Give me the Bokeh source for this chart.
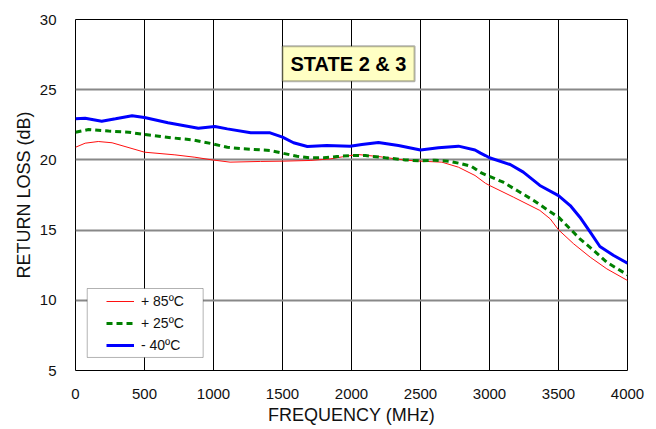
from bokeh.plotting import figure
from bokeh.models import (BoxAnnotation, Label, Legend, LegendItem, FixedTicker,
                          Range1d)
from bokeh.embed import file_html
from bokeh.resources import INLINE

# ---- data ----
freq_m40 = [0, 70, 190, 290, 410, 500, 670, 890, 1010, 1100, 1270, 1410, 1500,
            1580, 1680, 1820, 1990, 2075, 2195, 2340, 2500, 2630, 2775, 2895,
            2935, 2970, 3000, 3150, 3245, 3365, 3500, 3585, 3655, 3730, 3800,
            3900, 4000]
rl_m40 = [22.93, 22.97, 22.76, 22.93, 23.14, 23.02, 22.64, 22.26, 22.38, 22.21,
          21.93, 21.93, 21.62, 21.22, 20.95, 21.02, 20.98, 21.09, 21.24, 21.02,
          20.71, 20.86, 20.98, 20.71, 20.48, 20.31, 20.15, 19.67, 19.13, 18.18,
          17.46, 16.75, 15.92, 14.85, 13.83, 13.19, 12.64]

freq_p25 = [0, 95, 240, 385, 500, 700, 845, 990, 1100, 1215, 1410, 1500, 1605,
            1700, 1800, 1895, 1990, 2100, 2245, 2390, 2500, 2605, 2705, 2800,
            2870, 2945, 3000, 3100, 3200, 3320, 3415, 3500, 3560, 3655, 3755,
            3850, 4000]
rl_p25 = [21.97, 22.16, 22.05, 21.97, 21.81, 21.57, 21.43, 21.15, 20.90, 20.79,
          20.67, 20.48, 20.26, 20.15, 20.15, 20.24, 20.31, 20.31, 20.15, 20.00,
          19.93, 19.98, 19.91, 19.72, 19.53, 19.05, 18.82, 18.41, 17.82, 17.11,
          16.47, 15.92, 15.33, 14.38, 13.55, 12.71, 11.81]

freq_p85 = [0, 70, 165, 265, 500, 720, 865, 990, 1120, 1340, 1500, 1700, 1845,
            1990, 2050, 2195, 2390, 2500, 2655, 2775, 2895, 2970, 3000, 3175,
            3365, 3440, 3500, 3610, 3730, 3850, 4000]
rl_p85 = [20.90, 21.19, 21.31, 21.22, 20.55, 20.36, 20.19, 20.00, 19.84, 19.89,
          19.91, 19.96, 20.07, 20.31, 20.38, 20.24, 19.98, 19.91, 19.84, 19.48,
          18.89, 18.34, 18.18, 17.34, 16.40, 15.80, 15.02, 14.02, 13.07, 12.24,
          11.41]

x_ticks = [0, 500, 1000, 1500, 2000, 2500, 3000, 3500, 4000]
y_ticks = [5, 10, 15, 20, 25, 30]
series_labels = ["+ 85ºC", "+ 25ºC", "- 40ºC"]
title_text = "STATE 2 & 3"

FONT = "Liberation Sans"

p = figure(width=656, height=429, output_backend="svg", toolbar_location=None,
           x_range=Range1d(0, 4000), y_range=Range1d(5, 30),
           min_border_left=75, min_border_right=29, min_border_top=19,
           min_border_bottom=59)
p.background_fill_color = "white"
p.border_fill_color = "white"
p.outline_line_color = "black"
p.outline_line_width = 1
p.outline_line_alpha = 1

# grid
p.xgrid.ticker = FixedTicker(ticks=x_ticks)
p.ygrid.ticker = FixedTicker(ticks=y_ticks)
p.xgrid.grid_line_color = "black"
p.xgrid.grid_line_width = 1
p.ygrid.grid_line_color = "#888888"
p.ygrid.grid_line_width = 2

# axes
p.xaxis.ticker = FixedTicker(ticks=x_ticks)
p.yaxis.ticker = FixedTicker(ticks=y_ticks)
for ax in (p.xaxis[0], p.yaxis[0]):
    ax.axis_line_color = None
    ax.major_tick_line_color = None
    ax.minor_tick_line_color = None
    ax.major_label_text_font = FONT
    ax.major_label_text_font_size = "15px"
    ax.major_label_text_color = "#111111"
    ax.axis_label_text_font = FONT
    ax.axis_label_text_font_size = "18px"
    ax.axis_label_text_font_style = "normal"
    ax.axis_label_text_color = "#111111"
p.xaxis.axis_label = "FREQUENCY (MHz)"
p.yaxis.axis_label = "RETURN LOSS (dB)"
p.xaxis.major_label_standoff = 12
p.xaxis.axis_label_standoff = 3
p.yaxis.major_label_standoff = 13
p.yaxis.axis_label_standoff = 3

# lines
r85 = p.line(freq_p85, rl_p85, line_color="#FF1010", line_width=1)
r25 = p.line(freq_p25, rl_p25, line_color="#008000", line_width=3,
             line_dash="6 4")
r40 = p.line(freq_m40, rl_m40, line_color="#0000FF", line_width=3)

# title box
p.add_layout(BoxAnnotation(left=1500, right=2457, bottom=25.6, top=28.1,
                           fill_color="#FFFFC4", fill_alpha=1,
                           line_color="black", line_width=2))
p.add_layout(Label(x=1978, y=26.85, text=title_text, text_font=FONT,
                   text_font_size="20px", text_font_style="bold",
                   text_align="center", text_baseline="middle",
                   text_color="black"))

# legend frame
p.add_layout(BoxAnnotation(left=85, right=925, bottom=5.93, top=10.84,
                           fill_color="white", fill_alpha=1,
                           line_color="black", line_width=1))

legend = Legend(items=[LegendItem(label=series_labels[0], renderers=[r85]),
                       LegendItem(label=series_labels[1], renderers=[r25]),
                       LegendItem(label=series_labels[2], renderers=[r40])],
                location=(31, 15), border_line_color=None,
                background_fill_alpha=0, padding=0, spacing=2, margin=0,
                glyph_height=20, glyph_width=28, label_height=20,
                label_standoff=7, label_text_font=FONT,
                label_text_font_size="14px", label_text_color="#111111")
p.add_layout(legend)

open("out.html", "w").write(file_html(p, INLINE))
